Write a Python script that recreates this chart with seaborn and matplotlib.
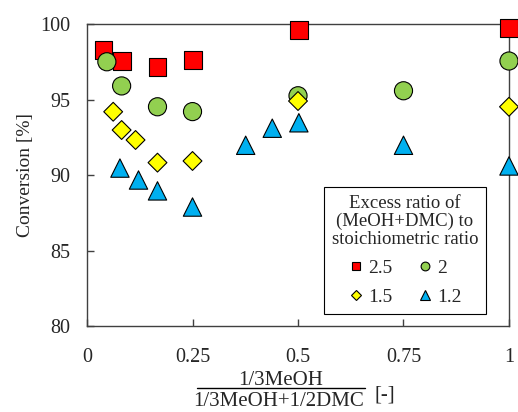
import pandas as pd
import matplotlib.pyplot as plt
import seaborn as sns
from matplotlib.lines import Line2D

# x = (1/3 MeOH) / (1/3 MeOH + 1/2 DMC), y = conversion [%]
x_25 = [0.039, 0.082, 0.167, 0.252, 0.502, 1.0]
y_25 = [98.3, 97.55, 97.17, 97.6, 99.58, 99.75]

x_20 = [0.047, 0.082, 0.167, 0.25, 0.5, 0.75, 1.0]
y_20 = [97.5, 95.9, 94.52, 94.2, 95.25, 95.58, 97.55]

x_15 = [0.062, 0.082, 0.115, 0.167, 0.25, 0.5, 1.0]
y_15 = [94.19, 92.98, 92.32, 90.82, 90.93, 94.9, 94.52]

x_12 = [0.078, 0.122, 0.167, 0.25, 0.376, 0.439, 0.502, 0.75, 1.0]
y_12 = [90.46, 89.67, 88.95, 87.88, 91.97, 93.1, 93.46, 91.97, 90.6]

ratios = ['2.5', '2', '1.5', '1.2']
colors = ['#FF0000', '#92D050', '#FFFF00', '#00B0F0']
markers = ['s', 'o', 'D', '^']
marker_area = [165, 170, 92, 175]     # scatter sizes (pt^2)
legend_msize = [6.0, 6.3, 4.8, 6.8]   # legend marker sizes (pt)

x_ticks = [0, 0.25, 0.5, 0.75, 1]
x_tick_labels = ['0', '0.25', '0.5', '0.75', '1']
y_ticks = [80, 85, 90, 95, 100]

frames = []
for r, xs, ys in zip(ratios, [x_25, x_20, x_15, x_12], [y_25, y_20, y_15, y_12]):
    frames.append(pd.DataFrame({'x': xs, 'y': ys, 'ratio': r}))
df = pd.concat(frames, ignore_index=True)

sns.set_style('ticks')
plt.rcParams['font.family'] = ['Liberation Serif', 'DejaVu Serif']

fig = plt.figure(figsize=(5.18, 4.12), dpi=100)
ax = fig.add_axes([0.168, 0.2087, 0.8146, 0.733])

sns.scatterplot(
    data=df, x='x', y='y', hue='ratio', style='ratio', size='ratio',
    hue_order=ratios, style_order=ratios, size_order=ratios,
    palette=dict(zip(ratios, colors)), markers=dict(zip(ratios, markers)),
    sizes=dict(zip(ratios, marker_area)),
    edgecolor='black', linewidth=0.8, ax=ax, clip_on=False, zorder=3,
)

ax.set_xlim(0, 1)
ax.set_ylim(80, 100)
ax.set_xticks(x_ticks)
ax.set_xticklabels(x_tick_labels)
ax.set_yticks(y_ticks)
ax.tick_params(direction='in', length=5, width=1, labelsize=14.5, color='#404040')
ax.tick_params(axis='x', pad=15.5)
ax.tick_params(axis='y', pad=12)
for sp in ax.spines.values():
    sp.set_linewidth(1)
    sp.set_color('#404040')
ax.set_xlabel('')
ax.set_ylabel('Conversion [%]', fontsize=14, labelpad=4.5)

# legend: row-wise order 2.5, 2 / 1.5, 1.2
handles, labels = ax.get_legend_handles_labels()
hmap = dict(zip(labels, handles))
for k, ms in zip(ratios, legend_msize):
    h = hmap[k]
    h.set_markersize(ms)
    h.set_markeredgecolor('black')
    h.set_markeredgewidth(0.8)
order = ['2.5', '1.5', '2', '1.2']
leg = ax.legend([hmap[k] for k in order], order, ncol=2,
                title='Excess ratio of\n(MeOH+DMC) to\nstoichiometric ratio',
                loc='lower right', bbox_to_anchor=(0.9455, 0.04), borderaxespad=0,
                fontsize=14, title_fontsize=13.5,
                frameon=True, fancybox=False, edgecolor='black', framealpha=1,
                handlelength=0.8, handletextpad=0.2, columnspacing=1.3,
                labelspacing=0.6, borderpad=0.4)
leg.get_title().set_multialignment('center')
leg.get_title().set_linespacing(1.05)
leg.get_frame().set_linewidth(0.8)

# fraction x-label
fig.text(281 / 518, 1 - 385 / 412, '1/3MeOH', ha='center', va='baseline', fontsize=15)
fig.text(279 / 518, 1 - 406 / 412, '1/3MeOH+1/2DMC', ha='center', va='baseline', fontsize=15)
fig.add_artist(Line2D([197 / 518, 365 / 518], [1 - 388 / 412, 1 - 388 / 412],
                      color='black', linewidth=1, transform=fig.transFigure))
fig.text(385 / 518, 1 - 395 / 412, '[-]', ha='center', va='center', fontsize=15)

fig.savefig('out.png', dpi=100)
